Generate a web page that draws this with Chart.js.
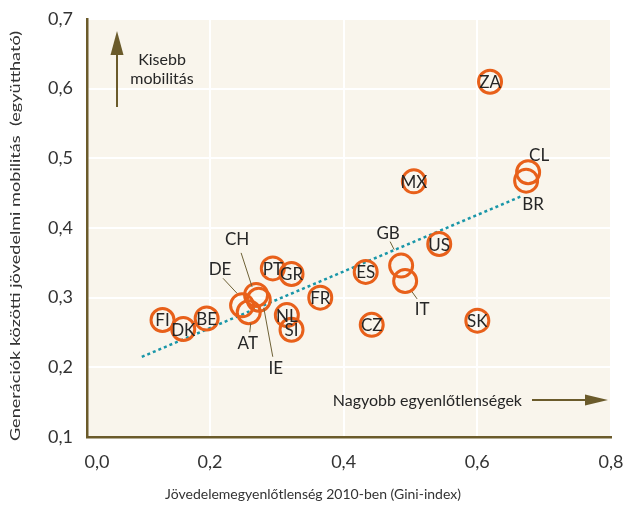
<!DOCTYPE html>
<html>
<head>
<meta charset="utf-8">
<script src="https://cdn.jsdelivr.net/npm/chart.js@4.4.1/dist/chart.umd.min.js"></script>
<style>
  html, body { margin: 0; padding: 0; background: #fff; }
  #wrap { width: 626px; height: 506px; position: relative; }
</style>
</head>
<body>
<div id="wrap"><canvas id="chart"></canvas></div>
<script>
// country codes and values
const codes = ['FI', 'DK', 'BE', 'DE', 'AT', 'CH', 'IE', 'PT', 'GR', 'NL', 'SI',
               'FR', 'ES', 'CZ', 'GB', 'IT', 'MX', 'US', 'SK', 'ZA', 'CL', 'BR'];
const gini = [0.129, 0.160, 0.195, 0.248, 0.258, 0.269, 0.273, 0.294, 0.322, 0.315, 0.322,
              0.365, 0.433, 0.442, 0.486, 0.492, 0.505, 0.543, 0.600, 0.619, 0.676, 0.673];
const mobility = [0.268, 0.255, 0.270, 0.289, 0.279, 0.304, 0.297, 0.342, 0.334, 0.275, 0.254,
                  0.300, 0.337, 0.261, 0.346, 0.324, 0.467, 0.377, 0.267, 0.610, 0.480, 0.468];

// trend line end points
const trendX = [0.098, 0.667];
const trendY = [0.215, 0.446];

const yTicks = [0.1, 0.2, 0.3, 0.4, 0.5, 0.6, 0.7];
const xTicks = [0.0, 0.2, 0.4, 0.6, 0.8];

// labels that sit outside their circle (pixel offsets from the point)
const outsideLabels = {
    CH: { text: [-19, -56], line: [-15, -42, -4, -8] },
    DE: { text: [-22, -37], line: [-19, -27, -5, -12] },
    AT: { text: [-1, 30], line: [2, 11, 1, 20] },
    IE: { text: [17, 68], line: [5, 8, 14, 57] },
    GB: { text: [-13, -33], line: [-11, -24, -7, -16] },
    IT: { text: [17, 28], line: [7, 11, 12, 18] },
    CL: { text: [11, -18] },
    BR: { text: [7, 23] },
};

const FONT = 'Lato, "Open Sans", sans-serif';
const fmt = (v) => v.toFixed(1).replace('.', ',');

const background = {
    id: 'background',
    beforeDraw(chart) {
        const { ctx, chartArea: a } = chart;
        ctx.save();
        ctx.fillStyle = '#f9f5ec';
        ctx.fillRect(a.left, a.top, a.right - a.left, a.bottom - a.top);
        ctx.restore();
    }
};

const decorations = {
    id: 'decorations',
    afterDatasetsDraw(chart) {
        const { ctx, chartArea: a } = chart;
        const meta = chart.getDatasetMeta(1);
        ctx.save();

        // leader lines
        ctx.strokeStyle = '#6e6136';
        ctx.lineWidth = 1;
        codes.forEach((c, i) => {
            const o = outsideLabels[c];
            if (!o || !o.line) return;
            const p = meta.data[i];
            ctx.beginPath();
            ctx.moveTo(p.x + o.line[0], p.y + o.line[1]);
            ctx.lineTo(p.x + o.line[2], p.y + o.line[3]);
            ctx.stroke();
        });

        // country codes
        ctx.fillStyle = '#262626';
        ctx.font = '17px ' + FONT;
        ctx.textAlign = 'center';
        ctx.textBaseline = 'middle';
        codes.forEach((c, i) => {
            const p = meta.data[i];
            const o = outsideLabels[c];
            const dx = o ? o.text[0] : 0;
            const dy = o ? o.text[1] : 0;
            ctx.fillText(c, p.x + dx, p.y + dy + 1);
        });

        // arrows
        ctx.strokeStyle = '#6b5b2b';
        ctx.fillStyle = '#6b5b2b';
        ctx.lineWidth = 2;
        const ax = a.left + 30;
        ctx.beginPath();
        ctx.moveTo(ax, a.top + 88);
        ctx.lineTo(ax, a.top + 30);
        ctx.stroke();
        ctx.beginPath();
        ctx.moveTo(ax, a.top + 12);
        ctx.lineTo(ax - 6.5, a.top + 36);
        ctx.lineTo(ax + 6.5, a.top + 36);
        ctx.closePath();
        ctx.fill();

        const ay = a.top + 381;
        ctx.beginPath();
        ctx.moveTo(a.left + 445, ay);
        ctx.lineTo(a.right - 20, ay);
        ctx.stroke();
        ctx.beginPath();
        ctx.moveTo(a.right - 3, ay);
        ctx.lineTo(a.right - 26, ay - 5.5);
        ctx.lineTo(a.right - 26, ay + 5.5);
        ctx.closePath();
        ctx.fill();

        ctx.fillStyle = '#262626';
        ctx.font = '16px ' + FONT;
        ctx.textAlign = 'center';
        ctx.fillText('Kisebb', a.left + 75, a.top + 41);
        ctx.fillText('mobilitás', a.left + 75, a.top + 60);
        ctx.textAlign = 'right';
        ctx.fillText('Nagyobb egyenlőtlenségek', a.left + 435, ay + 1);

        // axis titles
        ctx.fillStyle = '#333';
        ctx.font = '14px ' + FONT;
        ctx.textAlign = 'center';
        ctx.fillText('Jövedelemegyenlőtlenség 2010-ben (Gini-index)', 313, 494);
        const yTitle = 'Generációk közötti jövedelmi mobilitás  (együttható)';
        const stretch = 410 / ctx.measureText(yTitle).width;
        ctx.translate(15, 236);
        ctx.rotate(-Math.PI / 2);
        ctx.scale(stretch, 1);
        ctx.fillText(yTitle, 0, 0);

        ctx.restore();
    }
};

new Chart(document.getElementById('chart'), {
    type: 'scatter',
    data: {
        datasets: [
            {
                data: trendX.map((x, i) => ({ x, y: trendY[i] })),
                showLine: true,
                borderColor: '#1996a8',
                borderWidth: 2.5,
                borderDash: [3, 3],
                pointRadius: 0,
                order: 2,
            },
            {
                data: gini.map((x, i) => ({ x, y: mobility[i] })),
                pointRadius: 11.5,
                pointBorderWidth: 3,
                pointBorderColor: '#e8601a',
                pointBackgroundColor: 'rgba(0,0,0,0)',
                order: 1,
            }
        ]
    },
    options: {
        responsive: true,
        maintainAspectRatio: false,
        animation: false,
        layout: { padding: { top: 19, right: 15, left: 0, bottom: 0 } },
        plugins: {
            legend: { display: false },
            tooltip: { enabled: false },
        },
        scales: {
            x: {
                type: 'linear',
                min: 0.016,
                max: 0.8,
                afterBuildTicks: (scale) => {
                    scale.ticks = xTicks.map(v => ({ value: v === 0 ? 0.031 : v }));
                },
                afterFit: (scale) => {
                    scale.height = 69;
                    scale.paddingLeft = 0;
                    scale.paddingRight = 0;
                },
                grid: {
                    color: (c) => (c.tick && c.tick.value < 0.1 ? 'rgba(0,0,0,0)' : '#ffffff'),
                    lineWidth: 2,
                    drawTicks: false,
                },
                border: { color: '#6b5b2b', width: 2.5 },
                ticks: {
                    padding: 14,
                    color: '#333',
                    font: { family: FONT, size: 18 },
                    callback: (v) => (v < 0.1 ? '0,0' : fmt(v)),
                },
            },
            y: {
                type: 'linear',
                min: 0.1,
                max: 0.7,
                afterBuildTicks: (scale) => {
                    scale.ticks = yTicks.map(v => ({ value: v }));
                },
                afterFit: (scale) => {
                    scale.width = 87;
                    scale.paddingTop = 0;
                    scale.paddingBottom = 0;
                },
                grid: {
                    color: '#ffffff',
                    lineWidth: 2,
                    drawTicks: false,
                },
                border: { color: '#6b5b2b', width: 2.5 },
                ticks: {
                    padding: 14,
                    color: '#333',
                    font: { family: FONT, size: 18 },
                    callback: (v) => fmt(v),
                },
            }
        }
    },
    plugins: [background, decorations]
});
</script>
</body>
</html>
